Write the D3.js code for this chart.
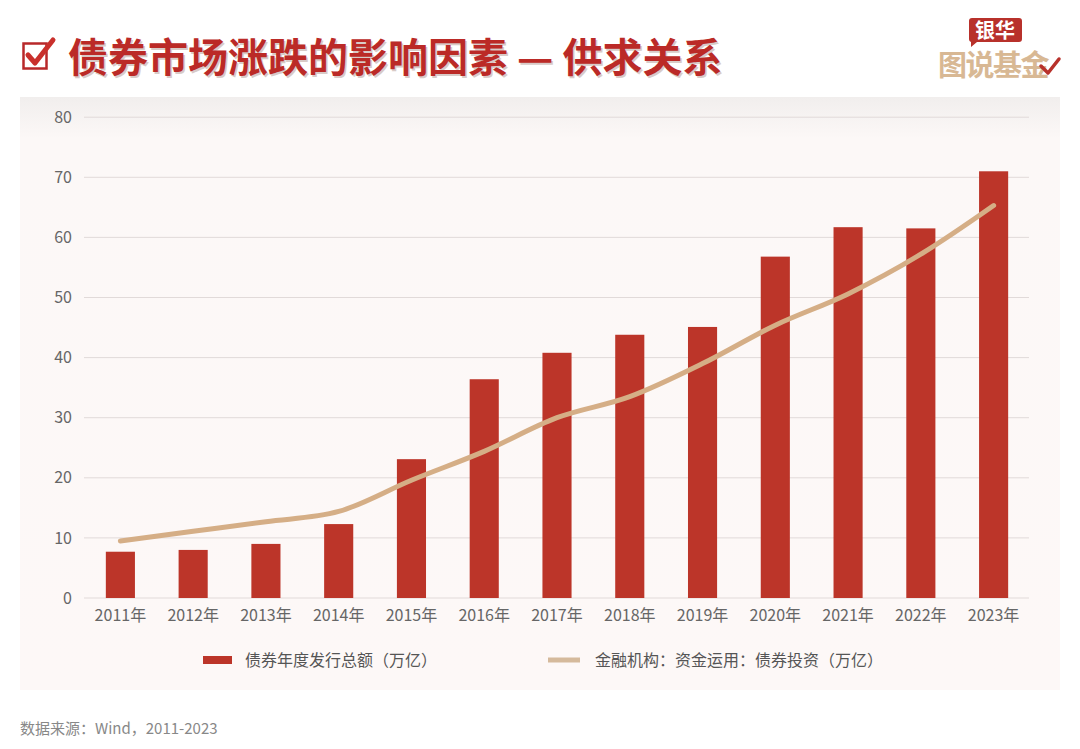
<!DOCTYPE html>
<html><head><meta charset="utf-8">
<script src="https://cdn.jsdelivr.net/npm/d3@7"></script>
<style>
html,body{margin:0;padding:0;background:#fff;}
svg{display:block;font-family:"Noto Sans CJK SC","Noto Sans",sans-serif;}
</style></head>
<body>
<svg id="c" width="1080" height="749"></svg>
<script>
const categories = ["2011年","2012年","2013年","2014年","2015年","2016年","2017年","2018年","2019年","2020年","2021年","2022年","2023年"];
const issuance = [7.7, 8.0, 9.0, 12.3, 23.1, 36.4, 40.8, 43.8, 45.1, 56.8, 61.7, 61.5, 71.0];
const investment = [9.5, 11.1, 12.7, 14.4, 19.6, 24.4, 30.0, 33.5, 39.0, 45.4, 50.6, 57.2, 65.3];
const yTicks = [0, 10, 20, 30, 40, 50, 60, 70, 80];
const seriesNames = ["债券年度发行总额（万亿）", "金融机构：资金运用：债券投资（万亿）"];
const titleText = "债券市场涨跌的影响因素 — 供求关系";
const sourceText = "数据来源：Wind，2011-2023";

const svg = d3.select("#c");
const defs = svg.append("defs");
const g1 = defs.append("linearGradient").attr("id","cardGrad").attr("x1",0).attr("y1",0).attr("x2",0).attr("y2",1);
g1.append("stop").attr("offset","0").attr("stop-color","#f1eeed");
g1.append("stop").attr("offset","0.07").attr("stop-color","#fcf8f7");
g1.append("stop").attr("offset","1").attr("stop-color","#fdf8f7");

// card
svg.append("rect").attr("x",20).attr("y",97).attr("width",1040).attr("height",593).attr("fill","url(#cardGrad)");

// title icon (checkbox)
const ic = svg.append("g");
ic.append("rect").attr("x",23.5).attr("y",43.5).attr("width",23).attr("height",25).attr("fill","none").attr("stroke","#b8282a").attr("stroke-width",2.5);
ic.append("path").attr("d","M28,55 L35,63 L53,40").attr("fill","none").attr("stroke","#c9302c").attr("stroke-width",5).attr("stroke-linecap","round").attr("stroke-linejoin","round");

svg.append("text").attr("x",68).attr("y",72).attr("font-size",40).attr("font-weight",700)
  .attr("fill","#bb2a27")
  .attr("style","text-shadow:1.5px 1.5px 0 #d8cbc8").text(titleText);

// logo
const lg = svg.append("g");
lg.append("path").attr("d","M969,18 h50 a3,3 0 0 1 3,3 v18 a3,3 0 0 1 -3,3 h-42 l-6,5 v-5 a3,3 0 0 1 -2,-3 v-18 a3,3 0 0 1 3,-3z").attr("fill","#b8312b");
lg.append("text").attr("x",995).attr("y",38).attr("text-anchor","middle").attr("font-size",20).attr("font-weight",700).attr("fill","#fff").text("银华");
lg.append("text").attr("x",993).attr("y",76).attr("text-anchor","middle").attr("font-size",29).attr("font-weight",700).attr("fill","#d8b894").attr("letter-spacing",-1.5).text("图说基金");
lg.append("path").attr("d","M1041,66 L1048,73 L1059,59").attr("fill","none").attr("stroke","#b8312b").attr("stroke-width",3.5).attr("stroke-linecap","round").attr("stroke-linejoin","round");

// scales
const x = d3.scaleBand().domain(categories).range([84,1030]).padding(0);
const y = d3.scaleLinear().domain([0,80]).range([598,117.2]);
const barW = x.bandwidth()*0.4;

// grid
svg.append("g").selectAll("line").data(yTicks).join("line")
  .attr("x1",84).attr("x2",1029).attr("y1",d=>y(d)).attr("y2",d=>y(d))
  .attr("stroke","#e1dad9").attr("stroke-width",1);

// y axis
const yAxis = d3.axisLeft(y).tickValues(yTicks).tickSize(0).tickPadding(0);
const ya = svg.append("g").attr("transform","translate(72,0)").call(yAxis);
ya.select(".domain").remove();
ya.selectAll("text").attr("font-size",16).attr("fill","#666").attr("font-family","'Noto Sans CJK SC','Noto Sans',sans-serif");

// x axis
const xAxis = d3.axisBottom(x).tickSize(0).tickPadding(0);
const xa = svg.append("g").attr("transform","translate(0,610)").call(xAxis);
xa.select(".domain").remove();
xa.selectAll("text").attr("font-size",16).attr("fill","#666").attr("font-family","'Noto Sans CJK SC','Noto Sans',sans-serif");

// bars
svg.append("g").selectAll("rect").data(issuance).join("rect")
  .attr("x",(d,i)=>x(categories[i])+x.bandwidth()/2-barW/2)
  .attr("width",barW)
  .attr("y",d=>y(d)).attr("height",d=>y(0)-y(d))
  .attr("fill","#bc3529");

// line
const line = d3.line().x((d,i)=>x(categories[i])+x.bandwidth()/2).y(d=>y(d)).curve(d3.curveMonotoneX);
svg.append("path").datum(investment).attr("d",line).attr("fill","none")
  .attr("stroke","#d5ae86").attr("stroke-width",5).attr("stroke-linecap","round").attr("stroke-linejoin","round");

// legend
const leg = svg.append("g");
leg.append("rect").attr("x",203).attr("y",656).attr("width",29).attr("height",8).attr("fill","#bc3529");
leg.append("text").attr("x",245).attr("y",666).attr("font-size",16).attr("fill","#555").text(seriesNames[0]);
leg.append("line").attr("x1",548).attr("x2",580).attr("y1",660).attr("y2",660).attr("stroke","#d5ba9c").attr("stroke-width",5);
leg.append("text").attr("x",595).attr("y",666).attr("font-size",16).attr("fill","#555").text(seriesNames[1]);

// source
svg.append("text").attr("x",20).attr("y",734).attr("font-size",15).attr("fill","#888").text(sourceText);
</script>
</body></html>
